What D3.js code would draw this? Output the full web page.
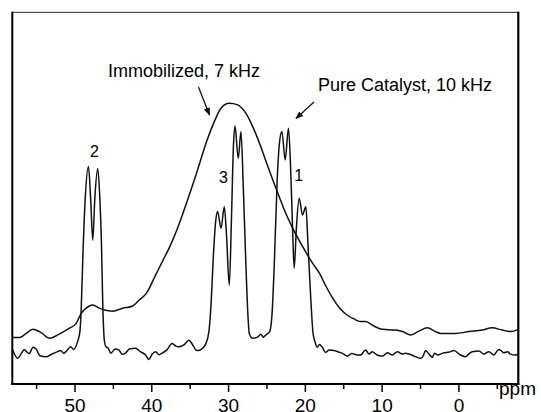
<!DOCTYPE html>
<html><head><meta charset="utf-8">
<script src="https://cdn.jsdelivr.net/npm/d3@7"></script>
<style>
html,body{margin:0;padding:0;background:#fff;}
svg{display:block;font-family:"Liberation Sans",Arial,sans-serif;}
</style></head>
<body><svg id="chart" width="541" height="412"></svg>
<script>
// ---- data (ppm, relative intensity 0..100) ----
const pureCatalyst = [
[58.1,9.4],[57.4,6.9],[56.9,8.3],[56.55,9.2],[55.9,8.2],[55.4,9.9],[55.0,9.4],[54.5,7.6],[53.7,7.3],[53.0,8.0],
[52.2,8.7],[51.8,9.0],[51.4,8.3],[51.1,8.7],[50.5,10.0],[50.1,9.3],[49.6,11.4],[49.3,14],[49.13,20],[48.9,35],
[48.6,50],[48.18,58.5],[47.9,50],[47.62,38.7],[47.35,50],[46.97,58.0],[46.7,50],[46.5,38.7],[46.3,20],[46.1,11.5],
[45.9,10.0],[45.6,9.6],[45.28,8.3],[44.7,9.4],[44.2,9.1],[43.8,8.0],[43.35,8.3],[42.8,9.5],[42.04,9.6],[41.5,8.8],
[40.74,7.8],[40.3,6.6],[39.9,8.0],[39.43,8.7],[39.0,7.9],[38.58,8.3],[38.0,9.1],[37.27,10.9],[36.8,10.2],[36.4,10.0],
[35.7,10.6],[35.1,11.8],[34.6,10.5],[34.2,9.2],[33.9,9.0],[33.5,9.3],[32.9,10.8],[32.5,14],[32.2,22],[31.9,35],
[31.6,44],[31.36,46.4],[30.92,41.9],[30.49,47.7],[30.2,40],[29.84,26.6],[29.55,45],[29.3,64],[29.1,69.4],[28.67,60.7],
[28.32,67.9],[28.0,52],[27.67,31.6],[27.4,18],[27.24,13.6],[26.8,12.3],[26.16,12.6],[25.72,13.4],[25.42,12.6],[25.07,13.2],
[24.6,14],[24.3,18],[23.99,31.6],[23.6,55],[23.3,65],[22.99,67.9],[22.56,60.3],[22.13,68.8],[21.85,58],[21.6,42],
[21.39,31.1],[21.1,42],[20.74,50.0],[20.31,45.5],[19.87,47.7],[19.6,38],[19.22,22.6],[18.95,14],[18.7,11.5],[18.4,9.9],
[18.1,10.6],[17.76,10.0],[17.3,8.5],[16.84,9.15],[16.2,9.0],[15.6,8.6],[15.1,8.25],[14.45,7.5],[13.9,8.2],[13.59,8.05],
[13.1,7.8],[12.72,7.8],[12.3,8.8],[12.07,9.15],[11.64,8.05],[11.2,8.7],[10.77,8.05],[10.3,7.6],[9.9,7.5],[9.25,8.4],
[8.6,7.8],[7.95,8.7],[7.3,8.05],[6.9,8.3],[6.44,8.05],[5.57,7.35],[4.92,6.9],[4.6,7.5],[4.27,9.0],[3.84,8.05],
[3.4,7.2],[3.1,8.3],[2.75,7.8],[1.89,8.4],[1.2,8.6],[0.59,9.0],[-0.28,7.8],[-0.93,7.35],[-1.4,8.2],[-1.8,8.7],
[-2.67,8.9],[-3.31,8.05],[-3.96,8.7],[-4.61,7.8],[-5.26,9.3],[-5.6,8.9],[-5.9,8.4],[-6.4,8.7],[-6.78,8.05],[-7.42,7.8],[-7.8,8.0]
];
const immobilized = [
[58.1,12.5],[57.15,12.5],[56.3,13.6],[55.42,14.7],[54.33,13.8],[53.25,12.3],[52.17,13.2],[51.3,14.2],[50.65,15.0],[49.78,16.3],
[49.13,19.0],[48.48,20.4],[47.62,21.25],[46.75,20.4],[46.1,19.9],[45.02,19.6],[43.72,20.4],[42.42,21.0],[41.55,22.6],[40.6,24.5],
[39.6,28.6],[38.5,33.2],[37.6,36.9],[36.35,43.2],[35.2,50.0],[33.97,57.6],[32.87,64.8],[31.79,70.6],[30.92,74.2],[29.84,75.5],
[28.76,75.1],[27.67,72.8],[26.59,68.3],[25.5,62.5],[24.9,59.0],[24.1,54.5],[23.34,50.4],[22.5,46],[21.6,42.0],[20.3,37.0],
[19.0,32.5],[18.1,29.8],[17.3,26.5],[16.5,23.5],[15.5,20.5],[14.6,18.7],[13.6,17.5],[12.8,16.8],[12.1,16.8],[11.0,15.6],
[9.9,14.7],[8.2,14.5],[7.3,14.1],[6.2,13.2],[5.1,14.3],[4.06,15.1],[3.0,14.1],[2.3,13.6],[0.4,13.6],[-1.4,14.1],
[-3.1,14.5],[-4.4,15.1],[-5.7,14.5],[-6.8,14.1],[-7.8,14.7]
];
const majorTicks = [50, 40, 30, 20, 10, 0];
const minorTicks = [55, 45, 35, 25, 15, 5, -5];
const xDomain = [58.1, -7.8];
const yDomain = [0, 100];
const seriesLabels = ["Immobilized, 7 kHz", "Pure Catalyst, 10 kHz"];
const peakLabels = [{t:"2", ppm:47.4, v:61}, {t:"3", ppm:30.6, v:54}, {t:"1", ppm:20.8, v:54.5}];
const axisTitle = "ppm";

// ---- layout ----
const L = 12.3, R = 518.3, T = 12.3, B = 384;
const svg = d3.select("#chart");
const x = d3.scaleLinear().domain(xDomain).range([L, R]);
const y = d3.scaleLinear().domain(yDomain).range([B, T]);

const line = d3.line().x(d => x(d[0])).y(d => y(d[1])).curve(d3.curveMonotoneX);

svg.append("path").datum(immobilized).attr("d", line)
  .attr("fill","none").attr("stroke","#111").attr("stroke-width",1.5);
svg.append("path").datum(pureCatalyst).attr("d", line)
  .attr("fill","none").attr("stroke","#111").attr("stroke-width",1.5);

// frame
svg.append("line").attr("x1",L).attr("x2",R).attr("y1",T).attr("y2",T).attr("stroke","#555").attr("stroke-width",1.2);
svg.append("line").attr("x1",L).attr("x2",L).attr("y1",T-0.6).attr("y2",B+1).attr("stroke","#000").attr("stroke-width",2);
svg.append("line").attr("x1",R).attr("x2",R).attr("y1",T-0.6).attr("y2",B+1).attr("stroke","#000").attr("stroke-width",2.2);

// bottom axis
const ax = svg.append("g").attr("transform",`translate(0,${B})`)
  .call(d3.axisBottom(x).tickValues(majorTicks).tickSize(8).tickSizeOuter(0).tickPadding(7).tickFormat(d3.format("d")));
ax.select(".domain").attr("stroke","#000").attr("stroke-width",2).attr("d",`M${L-1},0H${R+1}`);
ax.selectAll(".tick line").attr("stroke","#000").attr("stroke-width",1.5);
ax.selectAll(".tick text").attr("font-size",19).attr("fill","#000").attr("font-family","Liberation Sans, Arial, sans-serif");
const axm = svg.append("g").attr("transform",`translate(0,${B})`)
  .call(d3.axisBottom(x).tickValues(minorTicks).tickSize(5).tickSizeOuter(0).tickFormat(""));
axm.select(".domain").remove();
axm.selectAll(".tick line").attr("stroke","#000").attr("stroke-width",1.5);

svg.append("text").attr("x",499).attr("y",395).attr("font-size",19).text(axisTitle);

// annotations
svg.append("text").attr("x",108).attr("y",77).attr("font-size",18).text(seriesLabels[0]);
svg.append("text").attr("x",318).attr("y",90.5).attr("font-size",18).text(seriesLabels[1]);

svg.append("defs").append("marker").attr("id","ah").attr("viewBox","0 0 10 10")
  .attr("refX",9).attr("refY",5).attr("markerWidth",8).attr("markerHeight",8)
  .attr("markerUnits","userSpaceOnUse").attr("orient","auto")
  .append("path").attr("d","M0,1 L10,5 L0,9 Z").attr("fill","#111");

svg.append("line").attr("x1",198.5).attr("y1",87).attr("x2",209.5).attr("y2",115)
  .attr("stroke","#111").attr("stroke-width",1.3).attr("marker-end","url(#ah)");
svg.append("line").attr("x1",314).attr("y1",102).attr("x2",296).attr("y2",118.5)
  .attr("stroke","#111").attr("stroke-width",1.3).attr("marker-end","url(#ah)");

svg.selectAll(".pk").data(peakLabels).enter().append("text")
  .attr("x",d=>x(d.ppm)).attr("y",d=>y(d.v)).attr("text-anchor","middle")
  .attr("font-size",16).text(d=>d.t);
</script></body></html>
